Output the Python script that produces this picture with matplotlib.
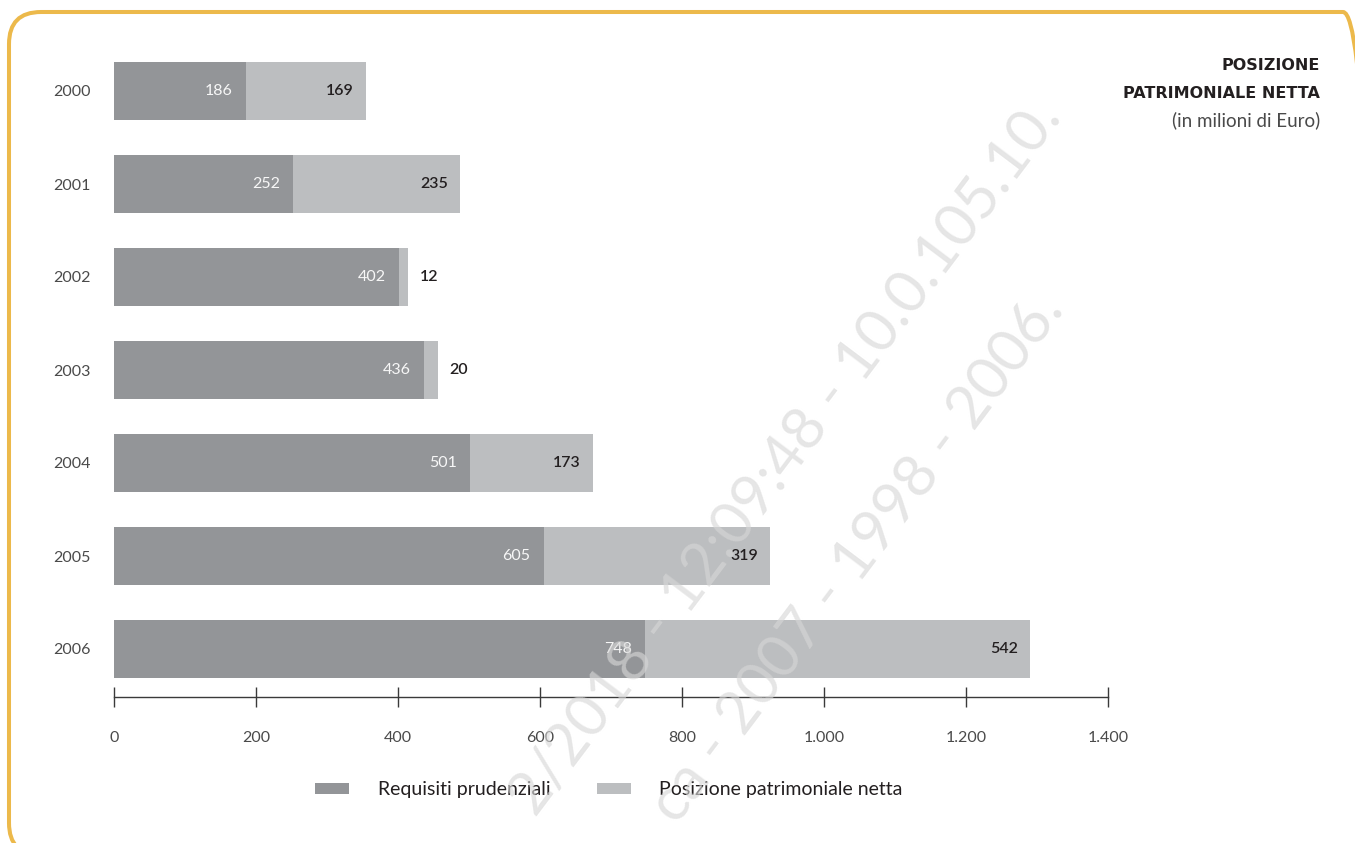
import numpy as np
import matplotlib.pyplot as plt
from matplotlib.patches import FancyBboxPatch
from matplotlib.ticker import FuncFormatter

# Dati (in milioni di Euro)
anni = ['2000', '2001', '2002', '2003', '2004', '2005', '2006']
requisiti = [186, 252, 402, 436, 501, 605, 748]
posizione = [169, 235, 12, 20, 173, 319, 542]
x_ticks = [0, 200, 400, 600, 800, 1000, 1200, 1400]

scuro = '#939598'
chiaro = '#bcbec0'
testo = '#231f20'
grigio_testo = '#4a4a4a'
arancio = '#ecb94b'

plt.rcParams['font.family'] = ['Lato', 'DejaVu Sans']

W, H = 1355, 843
fig = plt.figure(figsize=(W / 100, H / 100), dpi=100)
fig.patch.set_facecolor('white')

ax = fig.add_axes([114 / W, 1 - 697 / H, 994 / W, (697 - 44.5) / H])

y = np.arange(len(anni))
ax.barh(y, requisiti, height=0.62, color=scuro, label='Requisiti prudenziali')
ax.barh(y, posizione, left=requisiti, height=0.62, color=chiaro,
        label='Posizione patrimoniale netta')

# etichette dei valori
px = 1400 / 994
for i, (r, p) in enumerate(zip(requisiti, posizione)):
    ax.text(r - 13 * px, i, str(r), ha='right', va='center',
            color='#f7f7f7', fontsize=11.5)
    if p < 50:
        ax.text(r + p + 12 * px, i, str(p), ha='left', va='center',
                color=testo, fontsize=11.5, fontweight='semibold')
    else:
        ax.text(r + p - 12 * px, i, str(p), ha='right', va='center',
                color=testo, fontsize=11.5, fontweight='semibold')

ax.set_xlim(0, 1400)
ax.set_ylim(6 + 48 / 93, -0.5)
ax.set_yticks(y)
ax.set_yticklabels(anni)
ax.set_xticks(x_ticks)
ax.xaxis.set_major_formatter(FuncFormatter(lambda v, _: f'{int(v):,}'.replace(',', '.')))

for s in ['top', 'right', 'left']:
    ax.spines[s].set_visible(False)
ax.spines['bottom'].set_color('#3a3a3a')
ax.spines['bottom'].set_linewidth(1)

ax.tick_params(axis='x', direction='inout', length=14.4, width=1, color='#3a3a3a',
               pad=17, labelsize=11.5, labelcolor=grigio_testo)
ax.tick_params(axis='y', length=0, pad=17, labelsize=11.5, labelcolor=grigio_testo)

# legenda
fig.legend(loc='center', bbox_to_anchor=(609 / W, 1 - 790 / H), ncol=2, frameon=False,
           fontsize=14, handlelength=1.75, handleheight=0.52, handletextpad=1.45,
           columnspacing=2.4, labelcolor=testo)

# titolo
fig.text(1320 / W, 1 - 66 / H, 'POSIZIONE', ha='right', va='center',
         family='DejaVu Sans', fontweight='bold', fontsize=11.5, color=testo)
fig.text(1320 / W, 1 - 93 / H, 'PATRIMONIALE NETTA', ha='right', va='center',
         family='DejaVu Sans', fontweight='bold', fontsize=11.5, color=testo)
fig.text(1320 / W, 1 - 120 / H, '(in milioni di Euro)', ha='right', va='center',
         fontsize=13.5, color=grigio_testo)

# cornice arrotondata
cornice = FancyBboxPatch((0.09, -0.12), 13.75 - 0.09, 8.31 + 0.12,
                         boxstyle='round,pad=0,rounding_size=0.32',
                         transform=fig.dpi_scale_trans, fill=False,
                         edgecolor=arancio, linewidth=2.9)
fig.add_artist(cornice)

# filigrana
for testo_wm, (xp, yp) in [('2/2018 - 12:09:48 - 10.0.105.10.', (1050, 108)),
                           ('ca - 2007 - 1998 - 2006.', (1052, 300))]:
    fig.text(xp / W, 1 - yp / H, testo_wm, ha='right', va='center',
             rotation=53, rotation_mode='anchor', fontsize=43,
             color='#d7d7d7', alpha=0.63, zorder=10)

fig.savefig('out.png', dpi=100)
